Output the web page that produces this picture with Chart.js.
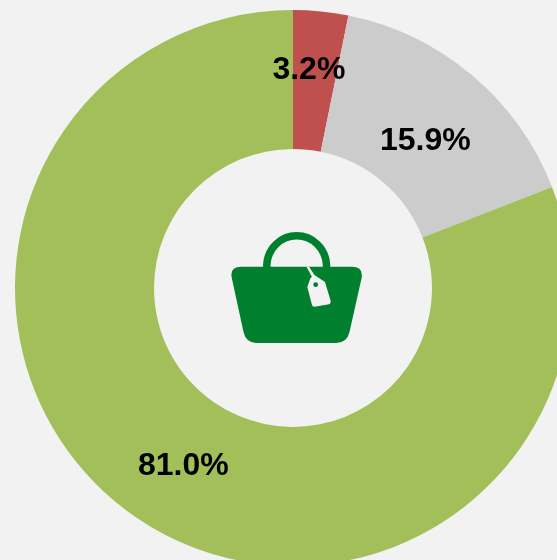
<!DOCTYPE html>
<html>
<head>
<meta charset="utf-8">
<script src="https://cdn.jsdelivr.net/npm/chart.js@4"></script>
<style>
html,body{margin:0;padding:0;width:557px;height:560px;overflow:hidden;background:#f2f2f2}
#wrap{position:absolute;left:0;top:0;width:557px;height:560px;overflow:hidden}
#c{position:absolute;left:0;top:0}
#bag{position:absolute;left:0;top:0}
</style>
</head>
<body>
<div id="wrap">
<canvas id="c" width="586" height="576" style="width:586px;height:576px"></canvas>
<svg id="bag" width="557" height="560" viewBox="0 0 557 560">
  <path d="M266.8 268 V264.5 A29.9 30.5 0 0 1 326.5 264.5 V268" fill="none" stroke="#00802f" stroke-width="7.5"/>
  <path d="M241 266.8 H352 Q363.5 266.8 361.6 278 L349.5 332 Q347 343 336 343 H257 Q246 343 243.5 332 L231.8 278 Q229.5 266.8 241 266.8 Z" fill="#00802f"/>
  <path d="M306.5 266.8 L309 266.8 L314.5 275 L325 282 L330.7 301 Q331.2 303.5 329 304.3 L314.5 306.8 Q312.5 307 312 305 L307.3 287 L310.5 278 L312 277 Z" fill="#f2f2f2"/>
  <circle cx="315.7" cy="284.7" r="2.4" fill="#00802f"/>
</svg>
</div>
<script>
const categories = ['Red', 'Grey', 'Green'];
const seriesValues = [3.2, 15.9, 81.0];
const valueLabels = ['3.2%', '15.9%', '81.0%'];
const sliceColors = ['#c0504d', '#cccccc', '#a2bf5a'];
const labelOffsets = [[-5, -10], [-2, 13], [8, 6]];

const sliceLabels = {
  id: 'sliceLabels',
  afterDatasetsDraw(chart) {
    const ctx = chart.ctx;
    const arcs = chart.getDatasetMeta(0).data;
    ctx.save();
    ctx.font = 'bold 32px "Liberation Sans", Arial, sans-serif';
    ctx.fillStyle = '#000000';
    ctx.textAlign = 'center';
    ctx.textBaseline = 'middle';
    arcs.forEach((arc, i) => {
      const p = arc.tooltipPosition();
      ctx.fillText(valueLabels[i], p.x + labelOffsets[i][0], p.y + labelOffsets[i][1]);
    });
    ctx.restore();
  }
};

new Chart(document.getElementById('c'), {
  type: 'doughnut',
  data: {
    labels: categories,
    datasets: [{ data: seriesValues, backgroundColor: sliceColors, borderWidth: 0 }]
  },
  options: {
    responsive: false,
    animation: false,
    cutout: '50%',
    layout: { padding: 10 },
    plugins: { legend: { display: false }, tooltip: { enabled: false } }
  },
  plugins: [sliceLabels]
});
</script>
</body>
</html>
